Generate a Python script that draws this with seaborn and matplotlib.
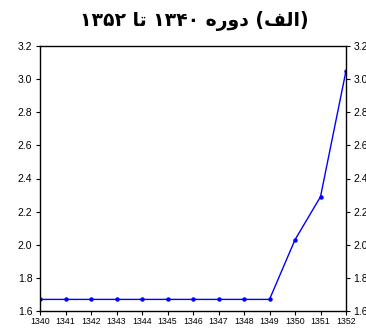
import matplotlib
matplotlib.use("Agg")
import matplotlib.pyplot as plt
import seaborn as sns
import pandas as pd

# Yearly series, 1340-1352
years = [1340, 1341, 1342, 1343, 1344, 1345, 1346, 1347, 1348, 1349, 1350, 1351, 1352]
values = [1.67, 1.67, 1.67, 1.67, 1.67, 1.67, 1.67, 1.67, 1.67, 1.67, 2.03, 2.29, 3.05]
y_ticks = [1.6, 1.8, 2.0, 2.2, 2.4, 2.6, 2.8, 3.0, 3.2]

# Title "(الف) دوره ۱۳۴۰ تا ۱۳۵۲" in visual order with joined letter forms
title_text = ("\u06F1\u06F3\u06F5\u06F2 "
              "\uFE8E\uFE97 "
              "\u06F1\u06F3\u06F4\u06F0 "
              "\uFEE9\uFEAD\uFEED\uFEA9 "
              "(\uFED2\uFEDF\uFE8D)")

df = pd.DataFrame({"year": years, "value": values})

sns.set_style("ticks")
plt.rcParams["font.family"] = ["Liberation Sans", "DejaVu Sans"]
plt.rcParams["text.color"] = "black"
plt.rcParams["xtick.color"] = "black"
plt.rcParams["ytick.color"] = "black"

fig = plt.figure(figsize=(3.66, 3.31), dpi=100)
ax = fig.add_axes([40 / 366, 20 / 331, 306 / 366, 265 / 331])

sns.lineplot(data=df, x="year", y="value", ax=ax, color="#0000ff",
             linewidth=1.0, marker="o", markersize=3.2,
             markeredgewidth=0, clip_on=True)

ax.set_xlim(1340, 1352)
ax.set_ylim(1.6, 3.2)
ax.set_xticks(years)
ax.set_xticklabels([str(y) for y in years], fontsize=6.3)
ax.set_yticks(y_ticks)
ax.set_yticklabels([f"{v:.1f}" for v in y_ticks], fontsize=7.5)
ax.set_xlabel("")
ax.set_ylabel("")

for s in ax.spines.values():
    s.set_visible(True)
    s.set_color("black")
    s.set_linewidth(1.0)

ax.tick_params(axis="both", direction="out", length=3, width=0.8,
               colors="black", labelcolor="black", pad=1.5)
ax.tick_params(axis="y", right=True, labelright=True)
ax.tick_params(axis="y", which="both", labelright=True, pad=2.5)

fig.text(194 / 366, 1 - 21 / 331, title_text, ha="center", va="center",
         fontsize=13.5, fontweight="bold", color="black",
         family=["DejaVu Sans"])

fig.savefig("out.png", dpi=100)
